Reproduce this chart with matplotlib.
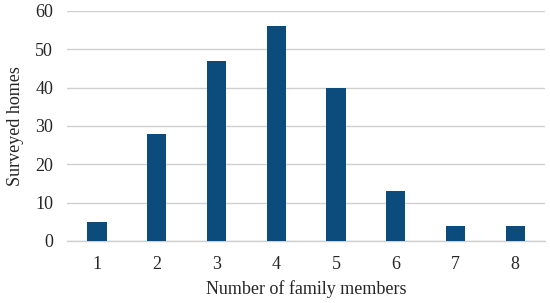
import matplotlib
matplotlib.use("Agg")
import matplotlib.pyplot as plt

members = ["1", "2", "3", "4", "5", "6", "7", "8"]
homes = [5, 28, 47, 56, 40, 13, 4, 4]

plt.rcParams['font.family'] = ['Liberation Serif']

fig = plt.figure(figsize=(5.5, 3.03), dpi=100)
ax = fig.add_axes([0.122, 0.205, 0.869, 0.759])
x = range(len(members))
ax.bar(x, homes, width=0.32, color='#0C4C7C', zorder=3)
ax.set_xlim(-0.5, len(members) - 0.5)
ax.set_ylim(0, 60)
ax.set_yticks(range(0, 61, 10))
ax.set_xticks(list(x))
ax.set_xticklabels(members)
ax.yaxis.grid(True, color='#D0D0D0', linewidth=1, zorder=0)
for s in ['top', 'right', 'left']:
    ax.spines[s].set_visible(False)
ax.spines['bottom'].set_color('#D0D0D0')
ax.spines['bottom'].set_linewidth(1)
ax.tick_params(axis='both', length=0, labelsize=13, colors='#262626')
ax.tick_params(axis='y', pad=10)
ax.tick_params(axis='x', pad=11)
ax.set_xlabel('Number of family members', fontsize=13, color='#262626', labelpad=5)
ax.set_ylabel('Surveyed homes', fontsize=13, color='#262626', labelpad=8)
fig.savefig('out.png', dpi=100)
